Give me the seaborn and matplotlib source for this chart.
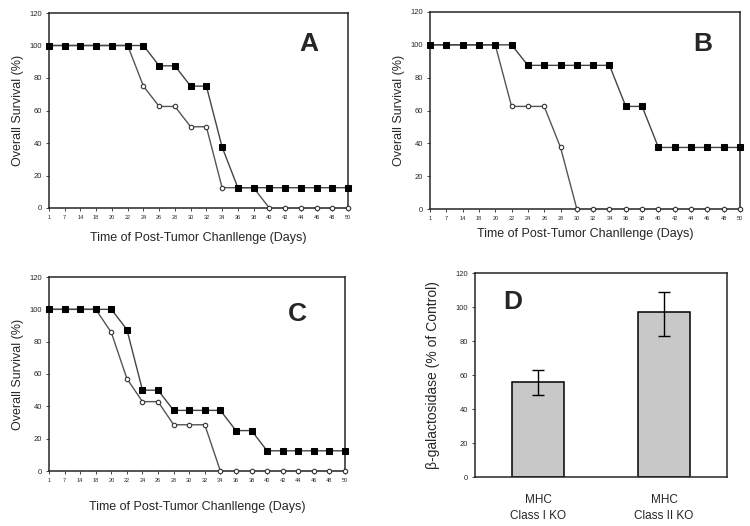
import matplotlib
matplotlib.use("Agg")
import matplotlib.pyplot as plt
import numpy as np
import pandas as pd
import seaborn as sns

days = ["1", "7", "14", "18", "20", "22", "24", "26", "28", "30",
        "32", "34", "36", "38", "40", "42", "44", "46", "48", "50"]

a_filled = [100, 100, 100, 100, 100, 100, 100, 87.5, 87.5, 75,
            75, 37.5, 12.5, 12.5, 12.5, 12.5, 12.5, 12.5, 12.5, 12.5]
a_open = [100, 100, 100, 100, 100, 100, 75, 62.5, 62.5, 50,
          50, 12.5, 12.5, 12.5, 0, 0, 0, 0, 0, 0]

b_filled = [100, 100, 100, 100, 100, 100, 87.5, 87.5, 87.5, 87.5,
            87.5, 87.5, 62.5, 62.5, 37.5, 37.5, 37.5, 37.5, 37.5, 37.5]
b_open = [100, 100, 100, 100, 100, 62.5, 62.5, 62.5, 37.5, 0,
          0, 0, 0, 0, 0, 0, 0, 0, 0, 0]

c_filled = [100, 100, 100, 100, 100, 87.5, 50, 50, 37.5, 37.5,
            37.5, 37.5, 25, 25, 12.5, 12.5, 12.5, 12.5, 12.5, 12.5]
c_open = [100, 100, 100, 100, 85.7, 57.1, 42.9, 42.9, 28.6, 28.6,
          28.6, 0, 0, 0, 0, 0, 0, 0, 0, 0]

groups = ["MHC\nClass I KO", "MHC\nClass II KO"]
beta_gal = [56, 97]
err_low = [48, 83]
err_high = [63, 109]

sns.set_style("ticks")
plt.rcParams["font.family"] = ["Liberation Sans", "DejaVu Sans"]

W, H = 750, 526
fig = plt.figure(figsize=(W / 100, H / 100), dpi=100)


def box(l, t, r, b):
    return [l / W, (H - b) / H, (r - l) / W, (b - t) / H]


def survival(ax, filled, opened, letter, lx, ly, xpad=8):
    df = pd.DataFrame({"pos": np.arange(len(days)), "filled": filled, "open": opened})
    sns.lineplot(data=df, x="pos", y="open", ax=ax, color="#555555", lw=1.0,
                 marker="o", markersize=3.2, markerfacecolor="white",
                 markeredgecolor="#333333", markeredgewidth=0.8, zorder=3,
                 clip_on=False)
    sns.lineplot(data=df, x="pos", y="filled", ax=ax, color="#444444", lw=1.0,
                 marker="s", markersize=4.0, markerfacecolor="black",
                 markeredgecolor="black", zorder=4, clip_on=False)
    ax.set_xlim(0, len(days) - 1)
    ax.set_ylim(0, 120)
    ax.set_yticks(range(0, 121, 20))
    ax.set_xticks(range(len(days)))
    ax.set_xticklabels(days, fontsize=4)
    ax.tick_params(axis="y", labelsize=5.5, length=2, width=0.6, pad=3)
    ax.tick_params(axis="x", length=2, width=0.6, pad=3)
    ax.set_xlabel("Time of Post-Tumor Chanllenge (Days)", fontsize=9, labelpad=xpad)
    ax.set_ylabel("Overall Survival (%)", fontsize=9, labelpad=4)
    for s in ax.spines.values():
        s.set_visible(True)
        s.set_linewidth(1.1)
    ax.text(lx, ly, letter, transform=ax.transAxes, fontsize=19,
            fontweight="bold", ha="center", va="center")


ax = fig.add_axes(box(49, 13, 348, 208))
survival(ax, a_filled, a_open, "A", 0.87, 0.84, xpad=9)

ax = fig.add_axes(box(430, 12, 740, 209))
survival(ax, b_filled, b_open, "B", 0.88, 0.84, xpad=5)

ax = fig.add_axes(box(49, 277, 345, 471))
survival(ax, c_filled, c_open, "C", 0.84, 0.81, xpad=13)

ax = fig.add_axes(box(475, 273, 727, 477))
dfd = pd.DataFrame({"group": groups, "val": beta_gal})
sns.barplot(data=dfd, x="group", y="val", ax=ax, color="#c8c8c8",
            edgecolor="black", linewidth=1.1, width=0.42, saturation=1)
lo = np.array(beta_gal) - np.array(err_low)
hi = np.array(err_high) - np.array(beta_gal)
ax.errorbar(np.arange(len(groups)), beta_gal, yerr=[lo, hi], fmt="none",
            ecolor="black", elinewidth=1.0, capsize=4, capthick=1.0)
ax.set_xlim(-0.5, 1.5)
ax.set_ylim(0, 120)
ax.set_yticks(range(0, 121, 20))
ax.tick_params(axis="y", labelsize=5.5, length=2, width=0.6, pad=3)
ax.tick_params(axis="x", labelsize=8.5, length=0, pad=12)
for t in ax.get_xticklabels():
    t.set_linespacing(1.5)
ax.set_xlabel("")
ax.set_ylabel("β-galactosidase (% of Control)", fontsize=10, labelpad=11)
for s in ax.spines.values():
    s.set_visible(True)
    s.set_linewidth(1.1)
ax.text(0.15, 0.86, "D", transform=ax.transAxes, fontsize=19,
        fontweight="bold", ha="center", va="center")

fig.savefig("out.png", dpi=100)
